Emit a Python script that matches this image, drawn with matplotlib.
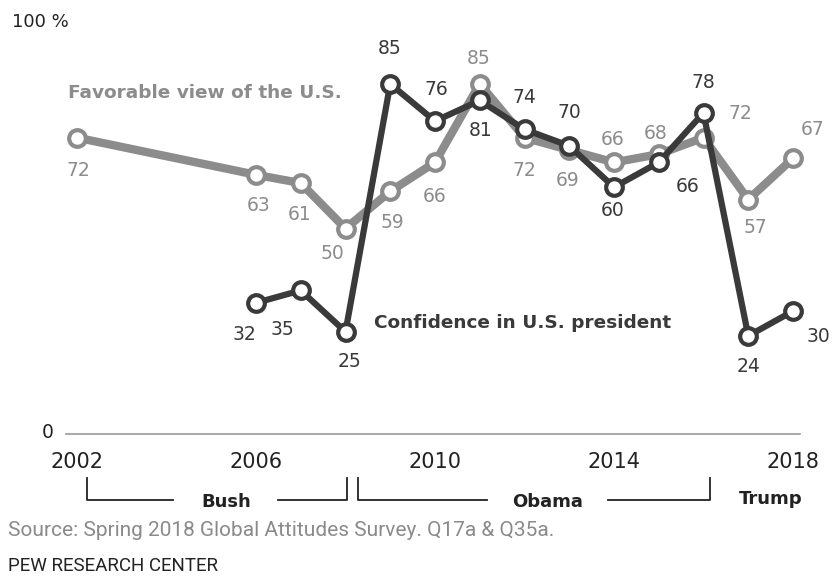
import matplotlib
matplotlib.use("Agg")
import matplotlib.pyplot as plt
from matplotlib.transforms import blended_transform_factory

# data
years_fav = [2002, 2006, 2007, 2008, 2009, 2010, 2011, 2012, 2013, 2014, 2015, 2016, 2017, 2018]
favorable = [72, 63, 61, 50, 59, 66, 85, 72, 69, 66, 68, 72, 57, 67]
years_conf = [2006, 2007, 2008, 2009, 2010, 2011, 2012, 2013, 2014, 2015, 2016, 2017, 2018]
confidence = [32, 35, 25, 85, 76, 81, 74, 70, 60, 66, 78, 24, 30]
xticks = [2002, 2006, 2010, 2014, 2018]

# label offsets in pixels (dx, dy), dy positive = up
fav_off = [(1, -33), (3, -31), (-1, -31), (-13, -25), (2, -31), (0, -34), (-1, 25),
           (0, -33), (-2, -30), (-1, 23), (-3, 21), (37, 24), (7, -28), (20, 29)]
conf_off = [(-12, -32), (-18, -39), (4, -30), (-1, 35), (1, 32), (1, -30), (0, 32),
            (0, 33), (-1, -23), (29, -24), (0, 30), (0, -31), (25, -25)]

light = "#8c8c8c"
dark = "#3a3a3a"
sans = ["DejaVu Sans"]
thin = ["Roboto", "DejaVu Sans"]

W, H = 835, 576
fig = plt.figure(figsize=(W / 100, H / 100), dpi=100)
x0, x1 = 77, 793
y0, y1 = 435, 22
ax = fig.add_axes([x0 / W, 1 - y0 / H, (x1 - x0) / W, (y0 - y1) / H])
ax.set_xlim(2002, 2018)
ax.set_ylim(0, 100)
ax.axis("off")

px = 72 / 100.0

ax.plot(years_fav, favorable, color=light, lw=6, zorder=2, clip_on=False,
        marker="o", ms=12, mfc="white", mec=light, mew=3)
ax.plot(years_conf, confidence, color=dark, lw=4.5, zorder=3, clip_on=False,
        marker="o", ms=12, mfc="white", mec=dark, mew=3)

for x, v, (dx, dy) in zip(years_fav, favorable, fav_off):
    ax.annotate(str(v), (x, v), xytext=(dx * px, dy * px), textcoords="offset points",
                ha="center", va="center", fontsize=13.5, color=light, family=sans)
for x, v, (dx, dy) in zip(years_conf, confidence, conf_off):
    ax.annotate(str(v), (x, v), xytext=(dx * px, dy * px), textcoords="offset points",
                ha="center", va="center", fontsize=13.5, color=dark, family=sans)

# series labels
fig.text(68 / W, 1 - 93 / H, "Favorable view of the U.S.", fontsize=13.3, fontweight="bold",
         color=light, family=sans, va="center", ha="left")
fig.text(374 / W, 1 - 323 / H, "Confidence in U.S. president", fontsize=13.3, fontweight="bold",
         color=dark, family=sans, va="center", ha="left")

# zero line and y labels
fig.add_artist(plt.Line2D([66 / W, 800 / W], [1 - 434 / H] * 2, color="#9a9a9a", lw=1.2))
fig.text(42 / W, 1 - 433 / H, "0", fontsize=13.5, color="#222222", family=sans, va="center")
fig.text(12 / W, 1 - 22 / H, "100 %", fontsize=13, color="#222222", family=sans, va="center")

# x tick labels
tr = blended_transform_factory(ax.transData, fig.transFigure)
for yr in xticks:
    ax.text(yr, 1 - 462 / H, str(yr), transform=tr, ha="center", va="center",
            fontsize=15, color="#222222", family=sans)

# president brackets
by_top, by_bot = 1 - 478 / H, 1 - 500 / H
brackets = [("Bush", 2002.22, 2008.04, 2004.15, 2006.5),
            ("Obama", 2008.28, 2016.15, 2011.16, 2013.87)]
for name, a, b, ga, gb in brackets:
    ax.plot([a, a, ga], [by_top, by_bot, by_bot], transform=tr, color="#222222", lw=1.3, clip_on=False)
    ax.plot([gb, b, b], [by_bot, by_bot, by_top], transform=tr, color="#222222", lw=1.3, clip_on=False)
    ax.text((ga + gb) / 2, 1 - 502 / H, name, transform=tr, ha="center", va="center",
            fontsize=13, fontweight="bold", color="#222222", family=sans)
ax.text(2017.5, 1 - 499 / H, "Trump", transform=tr, ha="center", va="center",
        fontsize=13, fontweight="bold", color="#222222", family=sans)

fig.text(8 / W, 1 - 530 / H, "Source: Spring 2018 Global Attitudes Survey. Q17a & Q35a.",
         fontsize=15, color="#8a8a8a", family=thin, va="center")
fig.text(8 / W, 1 - 566 / H, "PEW RESEARCH CENTER", fontsize=13.5, color="#222222",
         family=thin, va="center")

fig.savefig("out.png", dpi=100, facecolor="white")
